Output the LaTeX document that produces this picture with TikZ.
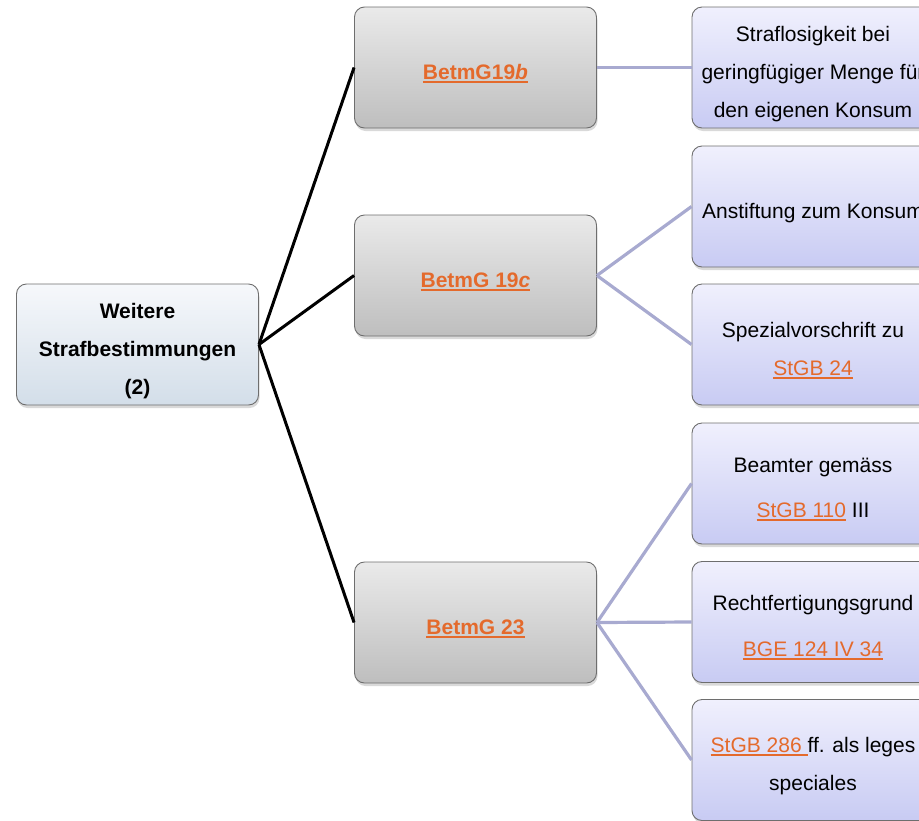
\documentclass[tikz,border=0pt]{standalone}
\usepackage{fontspec}
\setmainfont{Liberation Sans}
\usetikzlibrary{shadows}
\definecolor{linkor}{RGB}{228,106,44}
\definecolor{lavline}{RGB}{168,170,208}
\definecolor{boxborder}{RGB}{110,110,110}
\newcommand\lnk[1]{{\color{linkor}\sbox0{#1}\rlap{\rule[-3.5pt]{\wd0}{1.7pt}}\usebox0}}
\newcommand\topst{\rule{0pt}{29pt}}
\newcommand\botst{\rule[-6pt]{0pt}{6pt}}
\tikzset{
  basebox/.style={rounded corners=10pt, draw=boxborder, line width=0.9pt,
    minimum width=242pt, minimum height=121pt, align=center, inner sep=0pt,
    font=\fontsize{21}{38}\selectfont,
    drop shadow={opacity=0.3, shadow xshift=1pt, shadow yshift=-3pt}},
  rootbox/.style={basebox, top color={rgb,255:red,246;green,248;blue,251}, bottom color={rgb,255:red,211;green,222;blue,233}},
  midbox/.style={basebox, top color={rgb,255:red,234;green,234;blue,234}, bottom color={rgb,255:red,190;green,190;blue,190}},
  leafbox/.style={basebox, top color={rgb,255:red,240;green,240;blue,253}, bottom color={rgb,255:red,200;green,203;blue,243}},
  blackline/.style={line width=3pt, black},
  lavconn/.style={line width=3.2pt, lavline},
}
\begin{document}
\begin{tikzpicture}[x=1pt,y=-1pt]
\useasboundingbox (0,0) rectangle (919,820);
\clip (0,0) rectangle (919,820);
\node[rootbox] (root) at (137.5,344.5) {\topst\bfseries Weitere\\\bfseries Strafbestimmungen\\\bfseries (2)\botst};
\node[midbox] (m1) at (475.5,67.5) {\topst\bfseries\lnk{BetmG19\textit{b}}\botst};
\node[midbox] (m2) at (475.5,275.5) {\topst\bfseries\lnk{BetmG 19\textit{c}}\botst};
\node[midbox] (m3) at (475.5,622.5) {\topst\bfseries\lnk{BetmG 23}\botst};
\node[leafbox] (r1) at (813,67.5) {\topst Straflosigkeit bei\\geringfügiger Menge für\\den eigenen Konsum\botst};
\node[leafbox] (r2) at (813,206.5) {\topst Anstiftung zum Konsum\botst};
\node[leafbox] (r3) at (813,344.5) {\topst Spezialvorschrift zu\\\lnk{StGB 24}\botst};
\node[leafbox] (r4) at (813,483.5) {\topst Beamter gemäss\\[7pt]\lnk{StGB 110} III\botst};
\node[leafbox] (r5) at (813,622) {\topst Rechtfertigungsgrund\\[8pt]\lnk{BGE 124 IV 34}\botst};
\node[leafbox] (r6) at (813,760) {\topst\lnk{StGB 286 }ff. als leges\\speciales\botst};
\draw[blackline] (root.east) -- (m1.west);
\draw[blackline] (root.east) -- (m2.west);
\draw[blackline] (root.east) -- (m3.west);
\draw[lavconn] (m1.east) -- (r1.west);
\draw[lavconn] (m2.east) -- (r2.west);
\draw[lavconn] (m2.east) -- (r3.west);
\draw[lavconn] (m3.east) -- (r4.west);
\draw[lavconn] (m3.east) -- (r5.west);
\draw[lavconn] (m3.east) -- (r6.west);
\end{tikzpicture}
\end{document}
